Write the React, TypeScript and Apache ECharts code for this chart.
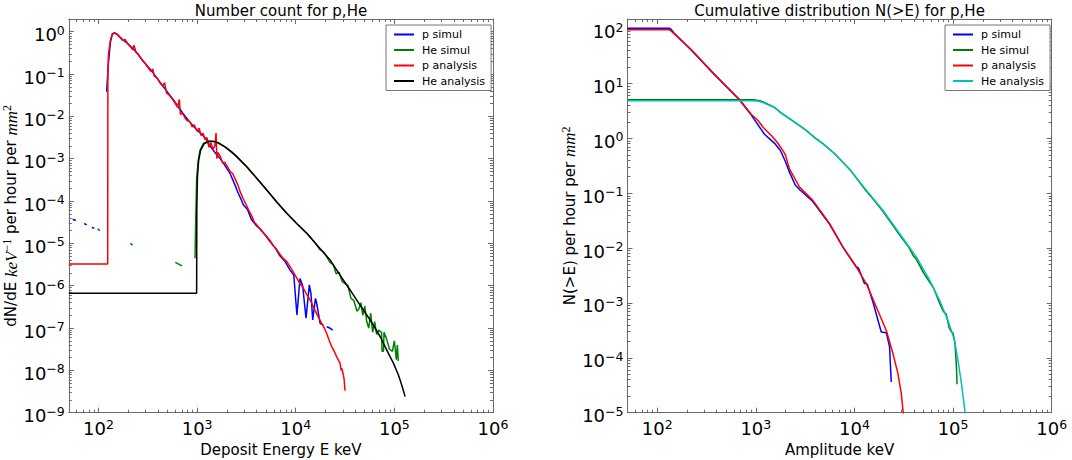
import React, { useEffect, useRef } from "react";
import * as echarts from "echarts";

// ---------- Left panel: Number count dN/dE (E in keV, value per keV per hour per mm^2) ----------
const leftPSimul: [number, number | null][] = [
  [54.7, 3.72e-5], [58.9, 3.47e-5], [65, null],
  [71.8, 2.95e-5], [75.9, 2.75e-5], [80, null],
  [85.9, 2.4e-5], [90.6, 2.26e-5], [100, null],
  [121, 3.83e-2], [126, 0.178], [132, 0.562], [138, 0.871], [145, 0.933], [155, 0.871],
  [176, 0.646], [200, 0.513], [222, 0.407], [251, 0.295], [281, 0.209], [316, 0.151],
  [355, 0.11], [398, 0.0759], [448, 0.0531], [501, 0.0372], [566, 0.0257], [631, 0.0178],
  [714, 0.012], [794, 8.71e-3], [891, 6.31e-3], [1000, 4.68e-3], [1140, 3.63e-3],
  [1259, 2.69e-3], [1352, 2.0e-3], [1514, 1.41e-3], [1706, 1.02e-3], [1905, 7.08e-4],
  [2158, 4.47e-4], [2399, 2.51e-4], [2618, 1.51e-4], [2818, 1.05e-4], [2944, 8.13e-5],
  [3236, 6.31e-5], [3581, 3.55e-5], [3981, 2.63e-5], [4345, 2.24e-5], [4898, 1.58e-5],
  [5483, 1.1e-5], [6166, 7.94e-6], [6934, 5.01e-6], [7762, 3.8e-6], [8750, 2.34e-6],
  [9550, 1.78e-6], [10280, 2.04e-7], [11040, 1.48e-6], [11750, 1.0e-6], [12710, 1.7e-7],
  [13740, 1.05e-6], [14290, 6.31e-7], [14860, 1.55e-7], [15850, 5.01e-7], [16330, 3.8e-7],
  [17660, 1.29e-7], [19050, 1.17e-7], [19800, null],
  [20610, 1.07e-7], [22130, 1.0e-7], [23710, 8.91e-8],
];

const leftHeSimul: [number, number | null][] = [
  [97.7, 2.19e-5], [103.5, 2.0e-5], [150, null],
  [210, 1.0e-5], [222, 9.12e-6], [400, null],
  [601, 3.55e-6], [703, 2.95e-6], [850, null],
  [953, 4.47e-6], [966, 3.16e-5], [991, 3.72e-4], [1028, 9.33e-4], [1069, 1.58e-3],
  [1156, 2.29e-3], [1300, 2.63e-3], [1445, 2.6e-3], [1581, 2.45e-3], [1919, 1.91e-3],
  [2523, 1.12e-3], [3184, 6.46e-4], [4018, 3.47e-4], [5082, 1.82e-4], [6412, 9.55e-5],
  [8110, 5.13e-5], [10230, 2.95e-5], [13430, 1.58e-5], [15850, 1.0e-5], [17620, 7.08e-6],
  [19050, 6.31e-6], [20420, 5.01e-6], [22280, 3.55e-6], [23990, 3.16e-6], [25700, 1.91e-6],
  [27540, 2.09e-6], [29510, 1.26e-6], [31620, 1.12e-6], [33880, 1.0e-6], [36310, 5.01e-7],
  [38900, 4.47e-7], [41690, 2.51e-7], [43650, 2.82e-7], [45710, 3.98e-7], [47860, 2.0e-7],
  [50120, 3.31e-7], [52480, 1.41e-7], [54950, 1.0e-7], [57540, 2.24e-7], [60260, 7.94e-8],
  [63100, 1.41e-7], [66070, 7.08e-8], [69180, 8.91e-8], [74130, 7.94e-8], [74990, 2.82e-8],
  [77620, 2.82e-8], [78520, 7.94e-8], [83180, 5.62e-8], [89130, 3.16e-8], [95500, 2.82e-8],
  [100000, 5.01e-8], [104700, 1.78e-8], [107200, 3.98e-8], [109600, 1.66e-8],
];

const leftPAnalysis: [number, number | null][] = [
  [50, 3.25e-6], [124, 3.25e-6], [124.5, 0.1], [126, 0.282], [132, 0.631], [138, 0.891],
  [145, 0.955], [155, 0.851], [166, 0.724], [176, 0.617], [186, 0.661], [200, 0.501],
  [214, 0.427], [222, 0.372], [229, 0.479], [240, 0.331], [251, 0.302], [281, 0.204],
  [295, 0.182], [316, 0.145], [339, 0.117], [355, 0.132], [367, 0.0891], [398, 0.0794],
  [417, 0.0631], [448, 0.0525], [468, 0.0631], [490, 0.0355], [525, 0.0316], [566, 0.0251],
  [603, 0.02], [631, 0.0166], [661, 0.0251], [676, 0.0112], [714, 0.0117], [759, 8.91e-3],
  [794, 7.94e-3], [851, 7.41e-3], [891, 5.62e-3], [933, 6.31e-3], [1000, 4.47e-3],
  [1047, 5.25e-3], [1096, 3.55e-3], [1148, 3.98e-3], [1202, 2.82e-3], [1259, 3.16e-3],
  [1318, 1.86e-3], [1380, 2.4e-3], [1445, 1.66e-3], [1514, 2.0e-3], [1556, 4.07e-3],
  [1585, 1.0e-3], [1622, 1.41e-3], [1706, 1.17e-3], [1820, 7.94e-4], [1905, 8.32e-4],
  [2042, 6.31e-4], [2158, 5.01e-4], [2291, 4.47e-4], [2455, 3.16e-4], [2618, 2.24e-4],
  [2754, 1.58e-4], [2944, 1.12e-4], [3162, 7.94e-5], [3311, 6.31e-5], [3581, 4.47e-5],
  [3802, 3.16e-5], [3981, 2.82e-5], [4345, 2.19e-5], [4677, 1.78e-5], [5012, 1.51e-5],
  [5483, 1.17e-5], [5888, 8.91e-6], [6310, 7.59e-6], [6934, 5.5e-6], [7413, 4.47e-6],
  [8110, 3.72e-6], [8913, 2.63e-6], [9840, 1.78e-6], [10720, 1.26e-6], [11940, 8.71e-7],
  [13180, 5.75e-7], [14130, 4.47e-7], [15100, 3.16e-7], [16600, 2.0e-7], [18320, 1.29e-7],
  [19500, 1.0e-7], [20610, 7.41e-8], [21880, 5.01e-8], [23170, 3.63e-8], [24550, 2.82e-8],
  [26000, 2.09e-8], [28120, 1.48e-8], [28840, 1.0e-8], [29240, 1.12e-8], [30410, 7.76e-9],
  [30900, 6.31e-9], [31620, 3.31e-9],
];

const leftHeAnalysis: [number, number | null][] = [
  [50, 6.6e-7], [989, 6.6e-7], [993, 6.31e-5], [1007, 3.55e-4], [1035, 8.91e-4],
  [1084, 1.58e-3], [1175, 2.24e-3], [1318, 2.57e-3], [1479, 2.57e-3], [1660, 2.34e-3],
  [1919, 1.91e-3], [2239, 1.45e-3], [2523, 1.12e-3], [3184, 6.46e-4], [4018, 3.47e-4],
  [5082, 1.82e-4], [6412, 9.55e-5], [8110, 5.13e-5], [10230, 2.95e-5], [12940, 1.74e-5],
  [17620, 7.59e-6], [22280, 4.07e-6], [28120, 1.78e-6], [35560, 7.94e-7], [44870, 3.47e-7],
  [56750, 1.55e-7], [71610, 6.31e-8], [83750, 3.02e-8], [97720, 1.48e-8], [109900, 7.76e-9],
  [118900, 4.47e-9], [128500, 2.4e-9],
];

// ---------- Right panel: cumulative N(>E) per hour per mm^2 ----------
const rightPSimul: [number, number | null][] = [
  [50, 102], [132, 102], [138, 97.7], [148, 83.2], [221, 40.7], [381, 14.5], [684, 5.01],
  [897, 2.69], [1225, 1.19], [1549, 0.813], [1778, 0.603], [1995, 0.38], [2198, 0.24],
  [2512, 0.141], [2773, 0.117], [3784, 0.0708], [5585, 0.0275], [7621, 0.0105],
  [10420, 4.57e-3], [10960, 4.37e-3], [11480, 3.55e-3], [12590, 2.29e-3], [13490, 2.19e-3],
  [15380, 1.05e-3], [17300, 4.9e-4], [18710, 2.95e-4], [21040, 2.88e-4], [22700, 1.58e-4],
  [23610, 3.63e-5],
];

const rightHeSimul: [number, number | null][] = [
  [50, 5.05], [955, 5.05], [1096, 4.85], [1202, 4.55], [1549, 3.67], [1778, 2.99],
  [2371, 2.09], [3162, 1.45], [3981, 1.02], [4786, 0.804], [6310, 0.525], [8913, 0.275],
  [13180, 0.11], [15850, 0.0741], [19410, 0.0468], [23990, 0.0275], [28640, 0.0174],
  [35480, 0.0105], [39810, 7.08e-3], [42360, 6.31e-3], [50120, 3.55e-3], [57810, 2.4e-3],
  [63100, 1.91e-3], [72950, 1.0e-3], [79430, 7.08e-4], [85110, 6.31e-4], [91200, 3.55e-4],
  [95500, 3.02e-4], [100000, 2.82e-4], [104700, 1.78e-4], [108400, 6.31e-5], [109600, 3.31e-5],
];

const rightPAnalysis: [number, number | null][] = [
  [50, 95.5], [132, 95.5], [138, 91.2], [148, 81.3], [221, 41.7], [381, 14.8], [684, 5.13],
  [897, 2.75], [1047, 2.14], [1191, 1.58], [1479, 1.07], [1660, 0.832], [1879, 0.603],
  [1995, 0.501], [2198, 0.275], [2773, 0.13], [3784, 0.0741], [5585, 0.0282], [7621, 0.0105],
  [10420, 4.57e-3], [13180, 2.26e-3], [16630, 8.51e-4], [21040, 3.16e-4], [24550, 1.2e-4],
  [27540, 5.25e-5], [29850, 2.24e-5], [31620, 7.94e-6],
];

const rightHeAnalysis: [number, number | null][] = [
  [50, 4.85], [891, 4.85], [1047, 4.8], [1202, 4.47], [1549, 3.63], [1778, 2.95], [2371, 2.09],
  [3162, 1.45], [3981, 1.02], [4786, 0.804], [6310, 0.525], [8913, 0.275], [13180, 0.114],
  [19410, 0.049], [28640, 0.0185], [42360, 6.92e-3], [57810, 2.6e-3], [72950, 1.12e-3],
  [88510, 4.86e-4], [103500, 2.09e-4], [111900, 9.12e-5], [120200, 3.98e-5], [127400, 1.78e-5],
  [134300, 7.94e-6],
];

// ---------- Axis ranges and decade ticks ----------
const xRange = [50, 1e6];
const leftYRange = [1e-9, 2];
const rightYRange = [1e-5, 150];
const xDecades = [2, 3, 4, 5, 6];
const leftYDecades = [-9, -8, -7, -6, -5, -4, -3, -2, -1, 0];
const rightYDecades = [-5, -4, -3, -2, -1, 0, 1, 2];

const seriesNames = ["p simul", "He simul", "p analysis", "He analysis"];
const leftColors = ["#0000ff", "#008000", "#ff0000", "#000000"];
const rightColors = ["#0000ff", "#008000", "#ff0000", "#00bfbf"];

const FONT = '"DejaVu Sans", sans-serif';
const MATH = '"Liberation Serif", "DejaVu Serif", serif';
const FRAME = "#6a6a6a";

const lg = (v: number) => Math.log10(v);

function toData(pts: [number, number | null][]) {
  return pts.map(([e, n]) => (n == null ? [lg(e), "-"] : [lg(e), lg(n)]));
}

function minorTicks(range: number[]) {
  const lo = lg(range[0]);
  const hi = lg(range[1]);
  const out: number[] = [];
  for (let n = Math.floor(lo); n <= Math.ceil(hi); n++) {
    for (let k = 2; k <= 9; k++) {
      const v = n + lg(k);
      if (v > lo + 1e-6 && v < hi - 1e-6) out.push(v);
    }
  }
  return out;
}

function tickLabel(v: number) {
  const n = Math.round(v);
  return `{b|10}{s|${n < 0 ? "\u2212" + -n : n}}`;
}

const tickRich = {
  b: { fontSize: 18, fontFamily: FONT, color: "#000", lineHeight: 22 },
  s: { fontSize: 12.5, fontFamily: FONT, color: "#000", lineHeight: 8, verticalAlign: "top" },
};

const nameRich = {
  t: { fontSize: 15, fontFamily: FONT, color: "#000", lineHeight: 20 },
  i: { fontSize: 17, fontFamily: MATH, fontStyle: "italic", color: "#000", lineHeight: 20 },
  s: { fontSize: 12, fontFamily: MATH, color: "#000", lineHeight: 9, verticalAlign: "top" },
};

function makeAxes(dim: "x" | "y", grid: number, range: number[], majors: number[], name: string, nameGap: number, rich: boolean) {
  const lo = lg(range[0]);
  const hi = lg(range[1]);
  const minors = minorTicks(range);
  const common = {
    type: "value",
    gridIndex: grid,
    min: lo,
    max: hi,
    splitLine: { show: false },
    silent: true,
  };
  const line = { show: true, onZero: false, lineStyle: { color: FRAME, width: 1 } };
  const noLine = { show: false, onZero: false };
  const majorTick = { show: true, inside: true, length: 5, customValues: majors, lineStyle: { color: FRAME, width: 1 } };
  const minorTick = { show: true, inside: true, length: 3, customValues: minors, lineStyle: { color: FRAME, width: 1 } };
  const p1 = dim === "x" ? "bottom" : "left";
  const p2 = dim === "x" ? "top" : "right";
  return [
    {
      ...common,
      position: p1,
      axisLine: line,
      axisTick: majorTick,
      axisLabel: {
        show: true,
        customValues: majors,
        formatter: tickLabel,
        rich: tickRich,
        margin: dim === "x" ? 5 : 4,
        padding: dim === "x" ? 0 : [6, 0, 0, 0],
      },
      name,
      nameLocation: "middle",
      nameGap,
      nameRotate: dim === "y" ? 90 : 0,
      nameTextStyle: rich
        ? { rich: nameRich, fontSize: 15, fontFamily: FONT, color: "#000" }
        : { fontSize: 15, fontFamily: FONT, color: "#000" },
    },
    { ...common, position: p1, axisLine: noLine, axisTick: minorTick, axisLabel: { show: false } },
    { ...common, position: p2, axisLine: line, axisTick: majorTick, axisLabel: { show: false } },
    { ...common, position: p2, axisLine: noLine, axisTick: minorTick, axisLabel: { show: false } },
  ];
}

function makeLegend(left: number, colors: string[]) {
  return {
    left,
    top: 25,
    orient: "vertical",
    selectedMode: false,
    data: seriesNames.map((n, i) => ({ name: n, itemStyle: { color: colors[i] } })),
    icon: "rect",
    itemWidth: 20,
    itemHeight: 2,
    itemGap: 4.5,
    padding: [4, 6, 4, 8],
    borderColor: "#777",
    borderWidth: 1,
    borderRadius: 0,
    backgroundColor: "#fff",
    textStyle: { fontSize: 11, fontFamily: FONT, color: "#000", padding: [0, 0, 0, 3] },
  };
}

function line(name: string, pts: [number, number | null][], color: string, axis: number) {
  return {
    type: "line",
    name,
    xAxisIndex: axis,
    yAxisIndex: axis,
    data: toData(pts),
    showSymbol: false,
    symbol: "none",
    connectNulls: false,
    clip: true,
    silent: true,
    lineStyle: { width: 1.5, color },
    itemStyle: { color },
  };
}

export default function App() {
  const ref = useRef<HTMLDivElement>(null);
  useEffect(() => {
    document.body.style.margin = "0";
    if (!ref.current) return;
    const chart = echarts.init(ref.current, null, { renderer: "svg" });
    const leftGrid = { left: 68.8, top: 19, width: 424.2, height: 393.7, outerBoundsMode: "none" };
    const rightGrid = { left: 627.5, top: 19, width: 424.2, height: 393.7, outerBoundsMode: "none" };
    const option = {
      animation: false,
      backgroundColor: "#fff",
      textStyle: { fontFamily: FONT },
      title: [
        { text: "Number count for p,He", left: 281, top: 3, textAlign: "center", padding: 0, textStyle: { fontSize: 15, fontWeight: "normal", fontFamily: FONT, color: "#000" } },
        { text: "Cumulative distribution N(>E) for p,He", left: 839.6, top: 3, textAlign: "center", padding: 0, textStyle: { fontSize: 15, fontWeight: "normal", fontFamily: FONT, color: "#000" } },
      ],
      grid: [leftGrid, rightGrid],
      xAxis: [
        ...makeAxes("x", 0, xRange, xDecades, "Deposit Energy E keV", 25, false),
        ...makeAxes("x", 1, xRange, xDecades, "Amplitude keV", 25, false),
      ],
      yAxis: [
        ...makeAxes("y", 0, leftYRange, leftYDecades, "{t|dN/dE }{i|keV}{s|\u22121}{t| per hour per }{i|mm}{s|2}", 41, true),
        ...makeAxes("y", 1, rightYRange, rightYDecades, "{t|N(>E) per hour per }{i|mm}{s|2}", 44, true),
      ],
      legend: [makeLegend(386, leftColors), makeLegend(945, rightColors)],
      series: [
        line(seriesNames[0], leftPSimul, leftColors[0], 0),
        line(seriesNames[1], leftHeSimul, leftColors[1], 0),
        line(seriesNames[2], leftPAnalysis, leftColors[2], 0),
        line(seriesNames[3], leftHeAnalysis, leftColors[3], 0),
        line(seriesNames[0], rightPSimul, rightColors[0], 4),
        line(seriesNames[1], rightHeSimul, rightColors[1], 4),
        line(seriesNames[2], rightPAnalysis, rightColors[2], 4),
        line(seriesNames[3], rightHeAnalysis, rightColors[3], 4),
      ],
    };
    chart.setOption(option as any);
    return () => chart.dispose();
  }, []);
  return <div ref={ref} style={{ width: 1072, height: 460 }} />;
}
